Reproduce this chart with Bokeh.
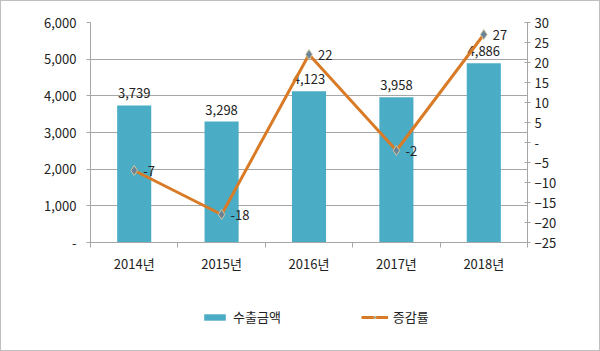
from bokeh.plotting import figure
from bokeh.layouts import column
from bokeh.models import (Range1d, LinearAxis, FixedTicker, NumeralTickFormatter,
                          Legend, LegendItem, ColumnDataSource)
from bokeh.core.properties import value
from bokeh.embed import file_html
from bokeh.resources import INLINE

categories = ["2014년", "2015년", "2016년", "2017년", "2018년"]
export_amount = [3739, 3298, 4123, 3958, 4886]
change_rate = [-7, -18, 22, -2, 27]
left_ticks = [0, 1000, 2000, 3000, 4000, 5000, 6000]
right_ticks = [-25, -20, -15, -10, -5, 0, 5, 10, 15, 20, 25, 30]

FONT = "Noto Sans CJK KR"
FS = "13px"
BAR = "#4BACC6"
LINE = "#D97B26"
GRID = "#A6A6A6"
TXT = "#222222"
MK_FILL = "#6A8397"
MK_LINE = "#CFC7A2"

xs = [i + 0.5 for i in range(len(categories))]
src = ColumnDataSource(dict(
    x=xs, amt=export_amount, rate=change_rate,
    amt_lbl=[f"{v:,}" for v in export_amount],
    rate_lbl=[str(v) for v in change_rate],
))

p = figure(width=598, height=281, output_backend="svg", toolbar_location=None,
           x_range=Range1d(0, len(categories)), y_range=Range1d(left_ticks[0], left_ticks[-1]),
           min_border_left=89, min_border_right=72, min_border_top=21, min_border_bottom=40)
p.extra_y_ranges = {"pct": Range1d(right_ticks[0], right_ticks[-1])}
p.outline_line_color = None
p.background_fill_color = "white"
p.border_fill_color = "white"

# axes
p.xaxis.ticker = FixedTicker(ticks=xs, minor_ticks=list(range(len(categories) + 1)))
p.xaxis.major_label_overrides = {x: c for x, c in zip(xs, categories)}
p.xaxis.major_tick_line_color = None
p.xaxis.minor_tick_out = 5
p.xaxis.minor_tick_in = 0
p.xaxis.minor_tick_line_color = GRID
p.xaxis.axis_line_color = GRID
p.xaxis.major_label_standoff = 5

p.yaxis.ticker = FixedTicker(ticks=left_ticks)
p.yaxis.formatter = NumeralTickFormatter(format="0,0")
p.yaxis.major_label_overrides = {0: "-"}
p.yaxis.major_tick_out = 4
p.yaxis.major_tick_in = 0
p.yaxis.minor_tick_line_color = None
p.yaxis.major_tick_line_color = GRID
p.yaxis.axis_line_color = GRID
p.yaxis.major_label_standoff = 10

ra = LinearAxis(y_range_name="pct", ticker=FixedTicker(ticks=right_ticks))
ra.major_label_overrides = {0: "-"}
ra.major_tick_out = 3
ra.major_tick_in = 3
ra.minor_tick_line_color = None
ra.major_tick_line_color = GRID
ra.axis_line_color = GRID
ra.major_label_standoff = 4
p.add_layout(ra, "right")

for ax in [p.xaxis[0], p.yaxis[0], ra]:
    ax.major_label_text_font = FONT
    ax.major_label_text_font_size = FS
    ax.major_label_text_color = TXT

p.xgrid.grid_line_color = None
p.ygrid.grid_line_color = GRID
p.ygrid.grid_line_width = 1

p.vbar(x="x", top="amt", width=0.39, bottom=0, source=src, fill_color=BAR, line_color=None)
p.text(x="x", y="amt", text="amt_lbl", source=src, text_font=value(FONT), text_font_size=FS,
       text_color=TXT, text_align="center", text_baseline="bottom", y_offset=-7)

p.line(x="x", y="rate", source=src, y_range_name="pct", line_color=LINE, line_width=3)
p.scatter(x="x", y="rate", source=src, y_range_name="pct", marker="diamond", size=10,
          fill_color=MK_FILL, line_color=MK_LINE, line_width=1)
p.text(x="x", y="rate", text="rate_lbl", source=src, y_range_name="pct", text_font=value(FONT),
       text_font_size=FS, text_color=TXT, text_align="left", text_baseline="middle", x_offset=9)

# legend strip (separate figure so the legend is not clipped)
lf = figure(width=598, height=68, output_backend="svg", toolbar_location=None,
            x_range=Range1d(0, len(categories)), y_range=Range1d(left_ticks[0], left_ticks[-1]),
            min_border=0, x_axis_location=None, y_axis_location=None)
lf.outline_line_color = None
lf.xgrid.grid_line_color = None
lf.ygrid.grid_line_color = None
lb = lf.vbar(x="x", top="amt", width=0.39, bottom=0, source=src, fill_color=BAR,
             line_color=None, visible=False)
ll = lf.line(x="x", y="rate", source=src, line_color=LINE, line_width=3, visible=False)
lp = lf.scatter(x="x", y="rate", source=src, marker="diamond", size=7,
                fill_color=MK_FILL, line_color=MK_LINE, line_width=1, visible=False)
legend = Legend(items=[LegendItem(label="수출금액", renderers=[lb]),
                       LegendItem(label="증감률", renderers=[ll, lp])],
                orientation="horizontal", location=(111, 24),
                glyph_width=27, glyph_height=8, label_standoff=5, spacing=80,
                padding=0, margin=0, border_line_color=None, background_fill_alpha=0,
                label_text_font=FONT, label_text_font_size=FS, label_text_color=TXT)
lf.add_layout(legend, "center")

layout = column(p, lf, spacing=0, styles={"border": "1px solid #BFBFBF"})

open("out.html", "w").write(file_html(layout, INLINE))
